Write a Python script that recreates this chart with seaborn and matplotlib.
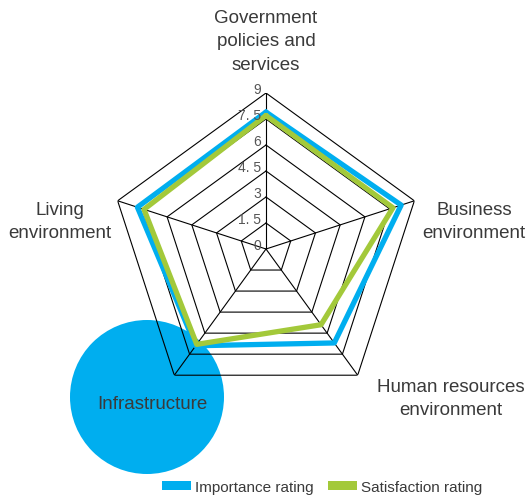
import numpy as np
import pandas as pd
import matplotlib
matplotlib.use("Agg")
import matplotlib.pyplot as plt
import matplotlib.transforms as mtransforms
from matplotlib.patches import Patch, Circle
import seaborn as sns

# values (scale 0-9)
categories = ["Government\npolicies and\nservices", "Business\nenvironment",
              "Human resources\nenvironment", "Infrastructure", "Living\nenvironment"]
importance = [7.9, 8.2, 6.7, 6.9, 7.8]
satisfaction = [7.7, 7.7, 5.4, 6.8, 7.4]
series_names = ["Importance rating", "Satisfaction rating"]
ticks = [0, 1.5, 3, 4.5, 6, 7.5, 9]
tick_labels = ["0", "1. 5", "3", "4. 5", "6", "7. 5", "9"]

BLUE = "#00AEEF"
GREEN = "#A3C93A"
TEXT = "#3a3a3a"

sns.set_theme(style="white")
plt.rcParams['font.family'] = ['Liberation Sans', 'DejaVu Sans']

n = len(categories)
angles = np.linspace(0, 2 * np.pi, n, endpoint=False)
angles_closed = np.append(angles, 2 * np.pi)

rows = []
for name, vals in zip(series_names, [importance, satisfaction]):
    closed = list(vals) + [vals[0]]
    for i, (a, v) in enumerate(zip(angles_closed, closed)):
        rows.append({"series": name, "order": i, "theta": a, "value": v})
df = pd.DataFrame(rows)

W, H = 530, 502
fig = plt.figure(figsize=(W / 100, H / 100), dpi=100)
fig.patch.set_facecolor("white")

# background layer in pixel coordinates for the highlight circle
bg = fig.add_axes([0, 0, 1, 1], zorder=0)
bg.set_xlim(0, W)
bg.set_ylim(H, 0)
bg.axis("off")
bg.add_patch(Circle((147, 398), 77, color=BLUE, lw=0))

cx, cy, R = 266, 250, 156
ax = fig.add_axes([(cx - R) / W, 1 - (cy + R) / H, 2 * R / W, 2 * R / H],
                  projection="polar", zorder=1)
ax.set_facecolor("none")
ax.set_theta_offset(np.pi / 2)
ax.set_theta_direction(-1)
ax.set_ylim(0, 9)
ax.grid(False)
ax.spines["polar"].set_visible(False)
ax.set_xticks([])
ax.set_yticks([])

# pentagon rings and spokes
for r in ticks[1:]:
    ax.plot(angles_closed, [r] * len(angles_closed), color="black", lw=0.8, zorder=1)
for a in angles:
    ax.plot([a, a], [0, ticks[-1]], color="black", lw=0.8, zorder=1)

sns.lineplot(data=df, x="theta", y="value", hue="series", units="series",
             estimator=None, sort=False, palette=[BLUE, GREEN], lw=3.8,
             legend=False, ax=ax, zorder=3)
ax.set_xlabel("")
ax.set_ylabel("")

off = mtransforms.offset_copy(ax.transData, fig=fig, x=-5, y=-3, units="dots")
for r, lab in zip(ticks, tick_labels):
    ax.text(0, r, lab, transform=off, ha="right", va="bottom",
            fontsize=10, color="#555555", zorder=4)

# category labels (pixel positions of the text blocks)
label_pos = [(266, 42), (474, 222), (451, 399), (152, 405), (60, 222)]
for lab, (x, y) in zip(categories, label_pos):
    fig.text(x / W, 1 - y / H, lab, ha="center", va="center", fontsize=13.5,
             color=TEXT, linespacing=1.5, zorder=5)

handles = [Patch(facecolor=BLUE, edgecolor="none"), Patch(facecolor=GREEN, edgecolor="none")]
fig.legend(handles, series_names, loc="center", bbox_to_anchor=(322 / W, 1 - 488 / H),
           ncol=2, frameon=False, fontsize=11, handlelength=1.9, handleheight=0.6,
           handletextpad=0.3, columnspacing=0.9, labelcolor=TEXT)

fig.savefig("out.png", dpi=100)
